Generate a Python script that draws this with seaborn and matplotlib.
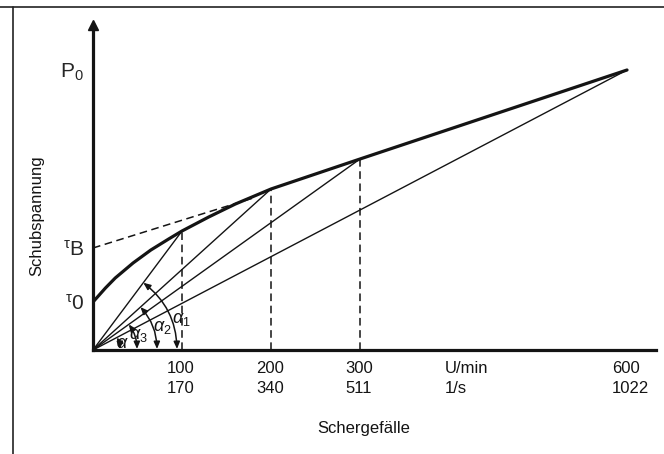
import numpy as np
import pandas as pd
import seaborn as sns
import matplotlib.pyplot as plt
from matplotlib.lines import Line2D

# speeds (U/min) and matching shear rates (1/s)
rpm = [100, 200, 300, 600]
rate = [170, 340, 511, 1022]
# shear stress read on the curve at those speeds (arbitrary units)
stress_at = [119, 161, 191, 280]

# flow curve
curve_x = [0, 6, 14, 25, 45, 65, 85, 100, 130, 160, 200, 250, 300, 600]
curve_y = [48, 54, 62, 72, 87, 100, 111, 119, 133, 146, 161, 176, 191, 280]

tau0 = 48
tauB = 102
p0 = 280
bingham_x = [0, 180]
bingham_y = [102, 152]

angle_labels = [r'$\alpha_1$', r'$\alpha_2$', r'$\alpha_3$', r'$\alpha$']
arc_radius = [84, 64, 44, 27]          # pixels
label_offset = [(88, 30), (69, 22), (45, 15), (29, 7)]

sns.set_theme(style='white')
plt.rcParams['font.family'] = ['Liberation Sans', 'DejaVu Sans']
plt.rcParams['mathtext.fontset'] = 'custom'
plt.rcParams['mathtext.rm'] = 'Liberation Sans'
plt.rcParams['mathtext.it'] = 'Liberation Sans:italic'

ink = '#141414'
fig = plt.figure(figsize=(6.64, 4.54), dpi=100)
ax = fig.add_axes([93/664, 104/454, 562.5/664, 325/454])
ax.set_xlim(0, 632)
ax.set_ylim(0, 325)

df = pd.DataFrame({'x': curve_x, 'y': curve_y})
sns.lineplot(data=df, x='x', y='y', sort=False, color=ink, lw=2.3, ax=ax)

# secants from origin
for x, y in zip(rpm, stress_at):
    ax.plot([0, x], [0, y], color=ink, lw=1.0, solid_capstyle='butt')
# verticals
for x, y in zip(rpm[:3], stress_at[:3]):
    ax.plot([x, x], [0, y], color=ink, lw=1.1, dashes=(5, 3))
# Bingham line
ax.plot(bingham_x, bingham_y, color=ink, lw=1.1, dashes=(5, 3))

# axes
for s in ['top', 'right']:
    ax.spines[s].set_visible(False)
for s in ['left', 'bottom']:
    ax.spines[s].set_linewidth(2.3)
    ax.spines[s].set_color(ink)
ax.plot([0], [325], marker='^', ms=7, color=ink, clip_on=False)

ax.set_xticks(rpm, labels=[])
ax.tick_params(axis='x', direction='inout', length=9, width=1.3, color=ink)
ax.set_yticks([p0, tauB, tau0], labels=['P$_0$', r'$^{\mathrm{\tau}}$B', r'$^{\mathrm{\tau}}$0'])
ax.tick_params(axis='y', direction='inout', length=9, width=1.3, color=ink,
               labelsize=15, pad=2)
ax.yaxis.get_major_ticks()[0].tick1line.set_visible(False)
ax.set_xlabel('')
ax.set_ylabel('')

for x, r in zip(rpm, rate):
    ax.annotate(f'{x}\n{r}', xy=(x, 0), xytext=(-15, -11), textcoords='offset pixels',
                ha='left', va='top', fontsize=12, linespacing=1.45, color=ink)
ax.annotate('U/min\n1/s', xy=(395, 0), xytext=(0, -11), textcoords='offset pixels',
            ha='left', va='top', fontsize=12, linespacing=1.45, color=ink)

# angle arcs, built in pixel space
fig.canvas.draw()
to_px = ax.transData
inv = to_px.inverted()
ox, oy = to_px.transform((0, 0))
for (x, y), r, lab, off in zip(zip(rpm, stress_at), arc_radius, angle_labels, label_offset):
    px, py = to_px.transform((x, y))
    th = np.arctan2(py - oy, px - ox)
    start = inv.transform((ox + r*np.cos(th), oy + r*np.sin(th)))
    end = inv.transform((ox + r, oy + 1))
    ax.annotate('', xy=end, xytext=start,
                arrowprops=dict(arrowstyle='<|-|>,head_length=0.35,head_width=0.15',
                                connectionstyle=f'arc3,rad={-np.tan(th/4):.4f}',
                                color=ink, lw=1.1, shrinkA=0, shrinkB=0))
    ax.annotate(lab, xy=(0, 0), xytext=off, textcoords='offset pixels',
                ha='center', va='center', fontsize=13, color=ink)

fig.text(37/664, 1 - 216/454, 'Schubspannung', rotation=90, ha='center', va='center',
         fontsize=12, color=ink)
fig.text(364/664, 1 - 429/454, 'Schergefälle', ha='center', va='center',
         fontsize=12, color=ink)

# frame lines of the scanned page
fig.add_artist(Line2D([0, 1], [1 - 7/454, 1 - 7/454], transform=fig.transFigure,
                      color='#222222', lw=1.2))
fig.add_artist(Line2D([13/664, 13/664], [0, 1 - 7/454], transform=fig.transFigure,
                      color='#222222', lw=1.2))

fig.savefig('out.png', dpi=100)
